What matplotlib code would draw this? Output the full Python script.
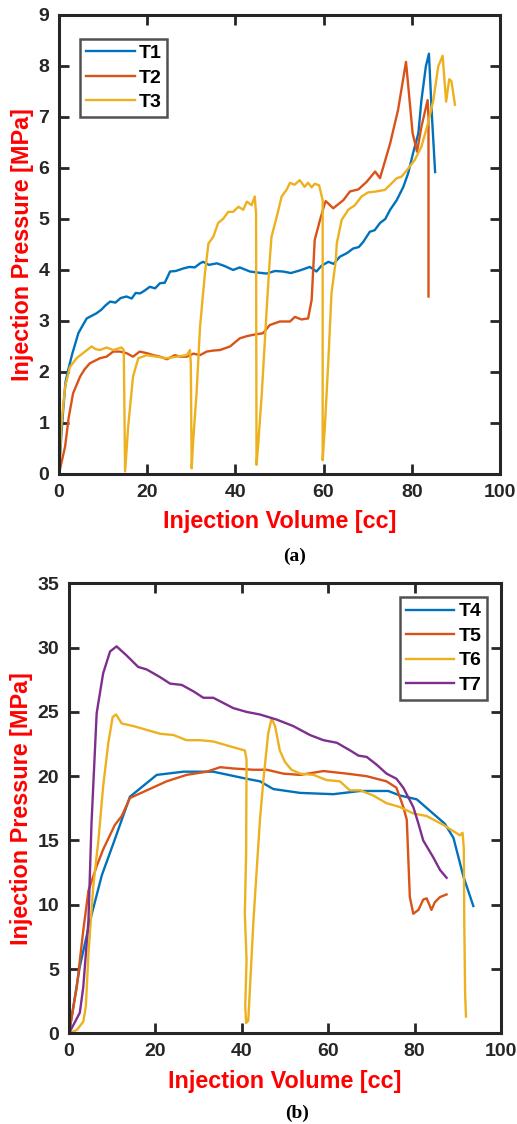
import numpy as np
import matplotlib
matplotlib.use("Agg")
import matplotlib.pyplot as plt

plt.rcParams['font.family'] = ['Liberation Sans', 'DejaVu Sans']
plt.rcParams['font.weight'] = 'bold'

# ---- panel (a) data ----
t1_x = [0, 0.5, 1.0, 1.5, 2.1, 3.0, 4.4, 5.3, 6.3, 7.4, 8.5, 9.6, 10.5, 11.6, 12.8, 14.0, 15.3, 16.5,
        17.4, 18.4, 19.5, 20.6, 21.8, 22.9, 24.0, 25.2, 26.5, 28.2, 29.6, 30.8, 32.0, 32.7, 34.0, 35.8,
        37.5, 39.5, 41.0, 43.3, 45.0, 47.1, 49.0, 50.8, 52.6, 54.6, 56.9, 58.4, 59.5, 61.1, 62.3, 63.7,
        65.3, 66.7, 68.0, 69.0, 70.5, 71.6, 72.8, 74.0, 75.1, 76.6, 78.1, 79.2, 80.3, 81.5, 82.2, 83.2,
        83.9, 84.5, 85.3]
t1_y = [0, 0.7, 1.3, 1.8, 2.04, 2.35, 2.76, 2.9, 3.05, 3.1, 3.15, 3.22, 3.3, 3.38, 3.36, 3.45, 3.48,
        3.44, 3.55, 3.54, 3.6, 3.67, 3.64, 3.74, 3.75, 3.97, 3.98, 4.03, 4.06, 4.05, 4.13, 4.16, 4.1,
        4.13, 4.08, 4.0, 4.05, 3.97, 3.95, 3.93, 3.98, 3.97, 3.94, 3.99, 4.06, 3.97, 4.08, 4.16, 4.12,
        4.26, 4.33, 4.42, 4.45, 4.55, 4.75, 4.78, 4.92, 5.0, 5.18, 5.37, 5.63, 5.9, 6.29, 6.68, 7.33,
        7.99, 8.24, 7.14, 5.92]

t2_x = [0, 1.4, 2.2, 3.2, 4.8, 5.8, 7.0, 9.3, 10.8, 12.3, 13.8, 15.3, 16.8, 18.3, 19.9, 21.4, 22.9,
        24.5, 26.3, 27.5, 29.0, 30.5, 32.0, 33.5, 35.0, 36.5, 38.8, 41.0, 42.5, 44.1, 46.3, 47.8, 50.1,
        52.4, 53.5, 55.0, 56.5, 57.3, 58.0, 59.2, 60.3, 60.5, 62.2, 64.5, 66.0, 67.9, 69.8, 71.7, 72.8,
        75.1, 76.9, 78.7, 80.2, 81.2, 82.2, 83.6, 83.8, 83.8]
t2_y = [0, 0.54, 1.1, 1.58, 1.91, 2.05, 2.17, 2.27, 2.3, 2.4, 2.4, 2.37, 2.3, 2.4, 2.37, 2.33, 2.3,
        2.25, 2.33, 2.3, 2.3, 2.36, 2.33, 2.4, 2.42, 2.43, 2.5, 2.66, 2.7, 2.73, 2.76, 2.92, 2.99,
        2.99, 3.08, 3.03, 3.05, 3.41, 4.59, 4.98, 5.31, 5.35, 5.21, 5.37, 5.54, 5.58, 5.73, 5.93, 5.8,
        6.48, 7.14, 8.08, 6.68, 6.32, 6.81, 7.33, 7.0, 3.48]

t3_x = [0, 0.6, 1.4, 2.5, 4.0, 5.9, 7.4, 8.3, 9.3, 10.8, 12.3, 14.2, 14.7, 15.0, 15.7, 16.8, 18.0,
        19.9, 22.1, 24.4, 26.7, 29.0, 29.7, 29.9, 30.1, 30.4, 31.2, 32.0, 33.1, 33.9, 35.0, 36.1, 37.3,
        38.4, 39.5, 40.7, 41.8, 42.6, 43.7, 44.4, 44.7, 44.8, 45.2, 46.0, 47.1, 47.8, 48.2, 49.4, 50.5,
        51.6, 52.4, 53.4, 54.6, 55.7, 56.5, 57.3, 58.0, 59.0, 59.8, 59.8, 60.3, 61.1, 61.8, 62.8, 63.0,
        64.1, 65.6, 67.1, 68.6, 70.1, 72.0, 73.9, 75.1, 76.6, 77.7, 79.2, 80.7, 82.2, 83.7, 84.9, 86.0,
        87.0, 87.8, 88.5, 89.0, 89.8]
t3_y = [0, 1.0, 1.71, 2.1, 2.27, 2.4, 2.5, 2.45, 2.43, 2.48, 2.43, 2.48, 2.43, 0.05, 0.93, 1.91, 2.27,
        2.33, 2.3, 2.27, 2.3, 2.33, 2.43, 2.17, 0.11, 0.6, 1.58, 2.89, 3.93, 4.52, 4.65, 4.92, 5.01,
        5.14, 5.14, 5.24, 5.18, 5.34, 5.27, 5.44, 5.1, 0.18, 0.6, 1.58, 3.22, 4.2, 4.65, 5.05, 5.44,
        5.57, 5.71, 5.67, 5.76, 5.63, 5.71, 5.62, 5.69, 5.66, 5.37, 0.27, 0.93, 2.24, 3.54, 4.2, 4.52,
        4.98, 5.18, 5.27, 5.44, 5.52, 5.54, 5.57, 5.67, 5.8, 5.83, 5.99, 6.16, 6.42, 6.88, 7.33, 7.99,
        8.2, 7.3, 7.74, 7.7, 7.24]

# ---- panel (b) data ----
t4_x = [0, 2.5, 4.9, 7.6, 10.3, 14.1, 20.3, 26.5, 33.4, 41.1, 44.2, 47.3, 53.5, 61.2, 67.4, 73.9,
        76.6, 80.5, 87.0, 89.0, 91.3, 93.6]
t4_y = [0, 5.2, 8.8, 12.3, 14.8, 18.4, 20.1, 20.35, 20.35, 19.8, 19.6, 19.0, 18.7, 18.6, 18.85, 18.85,
        18.5, 18.2, 16.3, 15.2, 12.2, 9.9]

t5_x = [0, 1.8, 3.3, 4.5, 6.4, 7.9, 10.6, 12.2, 14.1, 18.0, 22.6, 27.2, 31.9, 35.0, 38.0, 42.7, 45.8,
        49.6, 53.5, 58.9, 64.3, 68.9, 73.5, 75.8, 77.4, 78.2, 78.5, 78.9, 79.7, 80.9, 82.0, 82.8, 83.9,
        84.7, 85.9, 87.4]
t5_y = [0, 3.6, 8.0, 11.1, 13.0, 14.3, 16.2, 16.9, 18.3, 18.9, 19.6, 20.1, 20.35, 20.7, 20.6, 20.5, 20.5,
        20.2, 20.1, 20.4, 20.2, 20.0, 19.6, 19.1, 17.6, 16.6, 14.0, 10.6, 9.3, 9.6, 10.4, 10.5, 9.6,
        10.2, 10.6, 10.8]

t6_x = [0, 1.8, 3.3, 3.9, 4.5, 5.6, 6.8, 7.9, 9.1, 10.1, 10.9, 12.2, 14.9, 18.0, 21.1, 24.2, 27.2,
        30.3, 33.4, 36.5, 39.6, 40.7, 41.1, 41.0, 40.7, 41.1, 40.8, 41.0, 41.5, 42.7, 44.2, 45.0, 46.1,
        46.9, 47.7, 48.8, 50.0, 51.5, 53.5, 56.6, 59.6, 62.7, 65.0, 67.4, 70.4, 73.5, 76.6, 79.7, 82.8,
        86.7, 90.5, 91.1, 91.4, 91.5, 91.7, 91.9]
t6_y = [0, 0.26, 0.9, 2.1, 6.2, 11.4, 15.0, 19.2, 22.6, 24.6, 24.8, 24.1, 23.9, 23.6, 23.3, 23.2, 22.8,
        22.8, 22.7, 22.4, 22.1, 22.0, 21.3, 14.0, 9.3, 5.7, 2.1, 0.8, 1.0, 8.8, 16.6, 19.7, 23.3,
        24.5, 23.9, 22.0, 21.1, 20.5, 20.2, 20.1, 19.7, 19.6, 18.9, 18.9, 18.5, 17.9, 17.6, 17.1, 16.9,
        16.2, 15.4, 15.6, 14.4, 8.8, 3.1, 1.3]

t7_x = [0, 2.5, 3.3, 4.5, 5.2, 6.4, 7.9, 9.5, 11.0, 13.3, 16.0, 18.0, 21.1, 23.4, 26.1, 28.8, 31.1,
        33.4, 38.0, 41.1, 44.2, 48.1, 51.9, 55.8, 58.9, 62.0, 65.1, 67.0, 68.9, 71.2, 73.5, 75.8, 77.4,
        79.7, 80.9, 82.0, 84.3, 85.9, 87.4]
t7_y = [0, 1.6, 3.6, 8.8, 16.3, 24.9, 28.0, 29.7, 30.1, 29.4, 28.5, 28.3, 27.7, 27.2, 27.1, 26.6, 26.1,
        26.1, 25.3, 25.0, 24.8, 24.4, 23.9, 23.2, 22.8, 22.6, 22.0, 21.6, 21.5, 20.9, 20.2, 19.8, 19.1,
        17.6, 16.3, 15.0, 13.7, 12.7, 12.1]

colors = ['#0072BD', '#D95319', '#EDB120', '#7E2F8E']
xticks = [0, 20, 40, 60, 80, 100]

fig = plt.figure(figsize=(5.17, 11.24), dpi=100)


def style(ax, ylim, yticks):
    ax.set_xlim(0, 100)
    ax.set_ylim(*ylim)
    ax.set_xticks(xticks)
    ax.set_yticks(yticks)
    ax.tick_params(direction='in', length=7, width=2, top=True, right=True,
                   labelsize=14, colors='#262626', pad=7)
    for lab in ax.get_xticklabels() + ax.get_yticklabels():
        lab.set_fontweight('bold')
    for s in ax.spines.values():
        s.set_linewidth(2.2)
        s.set_color('#262626')
    ax.set_xlabel('Injection Volume [cc]', color='red', fontsize=16.8, fontweight='bold', labelpad=7)
    ax.set_ylabel('Injection Pressure [MPa]', color='red', fontsize=16.8, fontweight='bold', labelpad=3)


def legend(ax, loc, anchor):
    leg = ax.legend(loc=loc, bbox_to_anchor=anchor, borderaxespad=0, fontsize=14, frameon=True,
                    fancybox=False, edgecolor='#262626', handlelength=2.5, borderpad=0.3,
                    labelspacing=0.35, handletextpad=0.2)
    leg.get_frame().set_linewidth(1.8)
    for t in leg.get_texts():
        t.set_fontweight('bold')


ax1 = fig.add_axes([0.114, 0.5783, 0.853, 0.4084])
ax1.plot(t1_x, t1_y, color=colors[0], lw=1.7, label='T1')
ax1.plot(t2_x, t2_y, color=colors[1], lw=1.7, label='T2')
ax1.plot(t3_x, t3_y, color=colors[2], lw=1.7, label='T3')
style(ax1, (0, 9), range(0, 10))
legend(ax1, 'upper left', (0.048, 0.948))
fig.text(295 / 517, 1 - 556 / 1124, '(a)', ha='center', va='center', fontsize=14,
         fontweight='bold', family='Liberation Serif')

ax2 = fig.add_axes([0.1335, 0.0807, 0.8355, 0.4003])
ax2.plot(t4_x, t4_y, color=colors[0], lw=1.7, label='T4')
ax2.plot(t5_x, t5_y, color=colors[1], lw=1.7, label='T5')
ax2.plot(t6_x, t6_y, color=colors[2], lw=1.7, label='T6')
ax2.plot(t7_x, t7_y, color=colors[3], lw=1.7, label='T7')
style(ax2, (0, 35), range(0, 36, 5))
legend(ax2, 'upper right', (0.9676, 0.9696))
fig.text(297 / 517, 1 - 1113 / 1124, '(b)', ha='center', va='center', fontsize=14,
         fontweight='bold', family='Liberation Serif')

fig.savefig('out.png', dpi=100)
